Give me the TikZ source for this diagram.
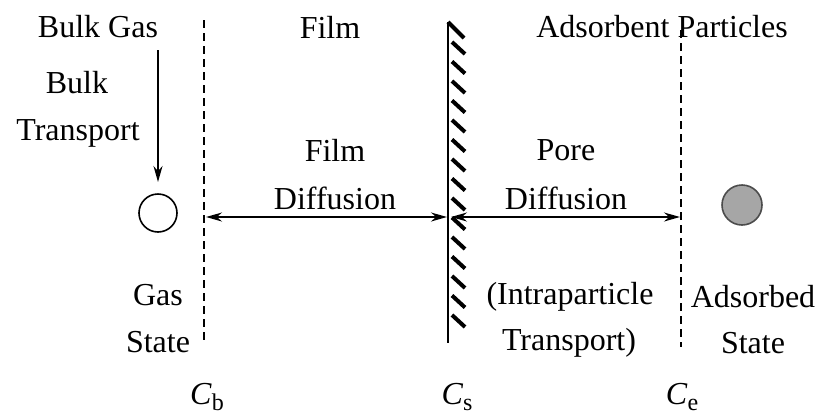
\documentclass[tikz,border=0pt]{standalone}
\usepackage{fontspec}
\setmainfont{Liberation Serif}
\usetikzlibrary{arrows.meta}
\begin{document}
\begin{tikzpicture}[x=0.5pt,y=-0.5pt,
  lbl/.style={font=\fontsize{16}{19}\selectfont, inner sep=0pt, anchor=center},
  dashln/.style={draw, dash pattern=on 4pt off 2.5pt, line width=0.6pt},
  arr/.style={line width=0.8pt, -{Stealth[length=8pt,width=4.5pt]}},
  darr/.style={line width=0.8pt, {Stealth[length=8pt,width=4.5pt]}-{Stealth[length=8pt,width=4.5pt]}}]
\useasboundingbox (0,0) rectangle (819,413);
% top labels
\node[lbl] (bulkgas) at (98,27) {Bulk Gas};
\node[lbl] (film) at (330,27) {Film};
\node[lbl] (adsp) at (662,27) {Adsorbent Particles};
\node[lbl] (bulk) at (77,83) {Bulk};
\node[lbl] (transport) at (78,133) {Transport};
% dashed boundaries
\coordinate (cbtop) at (204,20);
\coordinate (cbbot) at (204,340);
\draw[dashln] (cbtop) -- (cbbot);
\coordinate (cetop) at (681,30);
\coordinate (cebot) at (681,347);
\draw[dashln] (cetop) -- (cebot);
% wall
\coordinate (wtop) at (448,22);
\coordinate (wbot) at (448,343);
\draw[line width=1.2pt] (wtop) -- (wbot);
\draw[line width=2pt] (448,22) -- (464,38);
\foreach \y in {42,61.5,...,330} {
  \draw[line width=2pt] (452,\y) -- (465,\y+12);
}
% particles
\node[draw, circle, line width=0.8pt, minimum size=19pt, inner sep=0pt] (gasp) at (158,213) {};
\node[draw=black!70, fill=black!35, circle, line width=0.8pt, minimum size=20pt, inner sep=0pt] (adsp2) at (742,205) {};
% bulk arrow
\coordinate (bstart) at (158,50);
\coordinate (bend) at (158,182);
\draw[arr] (bstart) -- (bend);
% film diffusion
\node[lbl] (filmd1) at (335,150) {Film};
\node[lbl] (filmd2) at (335,198) {Diffusion};
\coordinate (fl) at (206,217);
\coordinate (fr) at (447,217);
\draw[darr] (fl) -- (fr);
% pore diffusion
\node[lbl] (pore1) at (566,150) {Pore};
\node[lbl] (pore2) at (566,198) {Diffusion};
\coordinate (pl) at (451,217);
\coordinate (pr) at (680,217);
\draw[darr] (pl) -- (pr);
% lower labels
\node[lbl] (gas) at (158,295) {Gas};
\node[lbl] (state1) at (158,342) {State};
\node[lbl] (intra) at (570,297) {(Intraparticle};
\node[lbl] (transp2) at (569,343) {Transport)};
\node[lbl] (adsorbed) at (753,297) {Adsorbed};
\node[lbl] (state2) at (753,343) {State};
% concentrations
\node[lbl] (cb) at (207,397) {\textit{C}\raisebox{-0.35ex}{\fontsize{12}{14}\selectfont b}};
\node[lbl] (cs) at (457,397) {\textit{C}\raisebox{-0.35ex}{\fontsize{12}{14}\selectfont s}};
\node[lbl] (ce) at (682,397) {\textit{C}\raisebox{-0.35ex}{\fontsize{12}{14}\selectfont e}};
\end{tikzpicture}
\end{document}
